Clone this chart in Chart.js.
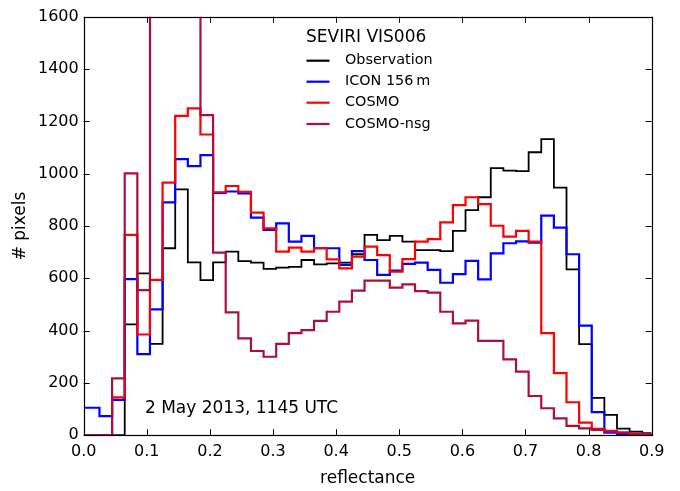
<!DOCTYPE html>
<html>
<head>
<meta charset="utf-8">
<script src="https://cdn.jsdelivr.net/npm/chart.js@4.4.1/dist/chart.umd.min.js"></script>
<style>
html,body{margin:0;padding:0;background:#fff;}
#wrap{width:680px;height:491px;position:relative;}
</style>
</head>
<body>
<div id="wrap"><canvas id="c" width="680" height="491"></canvas></div>
<script>
// Bin edges (reflectance) for the step histograms
const binEdges = [0.000, 0.025, 0.045, 0.065, 0.085, 0.105, 0.125, 0.145, 0.165, 0.185,
  0.205, 0.225, 0.245, 0.265, 0.285, 0.305, 0.325, 0.345, 0.365, 0.385,
  0.405, 0.425, 0.445, 0.465, 0.485, 0.505, 0.525, 0.545, 0.565, 0.585,
  0.605, 0.625, 0.645, 0.665, 0.685, 0.705, 0.725, 0.745, 0.765, 0.785,
  0.805, 0.825, 0.845, 0.865, 0.885, 0.900];

// Counts per bin (# pixels)
const observation = [0, 0, 0, 424, 619, 349, 715, 940, 661, 593,
  661, 702, 666, 660, 636, 641, 644, 670, 653, 657,
  660, 692, 766, 746, 762, 740, 708, 708, 704, 781,
  861, 910, 1021, 1012, 1010, 1082, 1132, 947, 634, 348,
  143, 78, 25, 14, 8];
const icon156m = [105, 73, 135, 597, 310, 481, 890, 1056, 1029, 1071,
  927, 932, 925, 832, 785, 810, 740, 762, 715, 715,
  651, 704, 670, 613, 629, 655, 660, 632, 583, 616,
  667, 596, 695, 734, 741, 736, 840, 794, 692, 419,
  88, 10, 5, 3, 2];
const cosmo = [0, 0, 145, 766, 385, 594, 966, 1221, 1250, 1150,
  929, 953, 931, 851, 791, 702, 717, 702, 715, 672,
  638, 683, 721, 689, 625, 673, 740, 750, 814, 880,
  910, 884, 801, 759, 781, 740, 390, 237, 126, 48,
  24, 17, 10, 6, 3];
const cosmoNsg = [0, 0, 217, 1001, 555, 2100, 2500, 2300, 1900, 1224,
  698, 470, 370, 322, 300, 349, 390, 402, 437, 472,
  511, 553, 591, 591, 564, 577, 551, 545, 472, 428,
  438, 361, 361, 290, 243, 150, 103, 64, 36, 26,
  20, 14, 10, 5, 3];

const seriesNames = ['Observation', 'ICON 156\u2009m', 'COSMO', 'COSMO-nsg'];
const seriesColors = ['#000000', '#0000ff', '#ff0000', '#ad0f3d'];
const xTicks = [0.0, 0.1, 0.2, 0.3, 0.4, 0.5, 0.6, 0.7, 0.8, 0.9];
const yTicks = [0, 200, 400, 600, 800, 1000, 1200, 1400, 1600];
const legendTitle = 'SEVIRI VIS006';
const dateLabel = '2 May 2013, 1145 UTC';
const dateLabelPos = {x: 0.097, y: 100};

const FONT = "'DejaVu Sans', sans-serif";

function stepPoints(values) {
  const pts = values.map((v, i) => ({x: binEdges[i], y: v}));
  pts.push({x: binEdges[values.length], y: values[values.length - 1]});
  return pts;
}

const allSeries = [observation, icon156m, cosmo, cosmoNsg];
const datasets = allSeries.map((vals, i) => ({
  label: seriesNames[i],
  data: stepPoints(vals),
  borderColor: seriesColors[i],
  backgroundColor: seriesColors[i],
  borderWidth: i === 0 ? 1.8 : 2.2,
  stepped: true,
  pointRadius: 0,
  pointHoverRadius: 0,
  fill: false,
  clip: 0,
  order: allSeries.length - i
}));

const framePlugin = {
  id: 'frameTicks',
  afterDatasetsDraw(chart) {
    const {ctx, chartArea: a, scales} = chart;
    ctx.save();
    ctx.strokeStyle = '#000';
    ctx.lineWidth = 1;
    ctx.beginPath();
    const L = 6;
    xTicks.forEach(v => {
      const px = Math.round(scales.x.getPixelForValue(v)) + 0.5;
      ctx.moveTo(px, a.bottom); ctx.lineTo(px, a.bottom - L);
      ctx.moveTo(px, a.top); ctx.lineTo(px, a.top + L);
    });
    yTicks.forEach(v => {
      const py = Math.round(scales.y.getPixelForValue(v)) + 0.5;
      ctx.moveTo(a.left, py); ctx.lineTo(a.left + L, py);
      ctx.moveTo(a.right, py); ctx.lineTo(a.right - L, py);
    });
    ctx.stroke();
    ctx.lineWidth = 1.2;
    ctx.strokeRect(Math.round(a.left) + 0.5, Math.round(a.top) + 0.5,
      Math.round(a.right) - Math.round(a.left), Math.round(a.bottom) - Math.round(a.top));

    // date annotation
    ctx.fillStyle = '#000';
    ctx.font = '17px ' + FONT;
    ctx.textAlign = 'left';
    ctx.textBaseline = 'middle';
    ctx.fillText(dateLabel, scales.x.getPixelForValue(dateLabelPos.x), scales.y.getPixelForValue(dateLabelPos.y));

    // legend
    ctx.font = '17px ' + FONT;
    ctx.fillText(legendTitle, 306, 37.5);
    ctx.font = '14.4px ' + FONT;
    const rows = [60.7, 81.7, 102.7, 124];
    seriesNames.forEach((n, i) => {
      ctx.strokeStyle = seriesColors[i];
      ctx.lineWidth = 2.2;
      ctx.beginPath();
      ctx.moveTo(306.5, rows[i]); ctx.lineTo(329.5, rows[i]);
      ctx.stroke();
      ctx.fillStyle = '#000';
      ctx.fillText(n, 345, rows[i]);
    });
    ctx.restore();
  }
};

new Chart(document.getElementById('c'), {
  type: 'line',
  data: {datasets},
  options: {
    responsive: false,
    animation: false,
    events: [],
    layout: {padding: {top: 16.8, right: 28.3, left: 0, bottom: 0}},
    plugins: {legend: {display: false}, tooltip: {enabled: false}},
    scales: {
      x: {
        type: 'linear', min: 0, max: 0.9,
        afterBuildTicks: s => { s.ticks = xTicks.map(v => ({value: v})); },
        afterFit: s => { s.height = 55.8; },
        ticks: {padding: 7, color: '#000', font: {family: FONT, size: 16},
          callback: v => v.toFixed(1), maxRotation: 0, autoSkip: false},
        grid: {drawOnChartArea: false, drawTicks: false},
        border: {display: false},
        title: {display: true, text: 'reflectance', color: '#000',
          font: {family: FONT, size: 17}, padding: {top: 0, bottom: 2}}
      },
      y: {
        type: 'linear', min: 0, max: 1600,
        afterBuildTicks: s => { s.ticks = yTicks.map(v => ({value: v})); },
        afterFit: s => { s.width = 83.7; },
        ticks: {padding: 5, color: '#000', font: {family: FONT, size: 16}, autoSkip: false,
          callback: v => String(v)},
        grid: {drawOnChartArea: false, drawTicks: false},
        border: {display: false},
        title: {display: true, text: '# pixels', color: '#000',
          font: {family: FONT, size: 17}, padding: {top: 10, bottom: 0}}
      }
    }
  },
  plugins: [framePlugin]
});
</script>
</body>
</html>
